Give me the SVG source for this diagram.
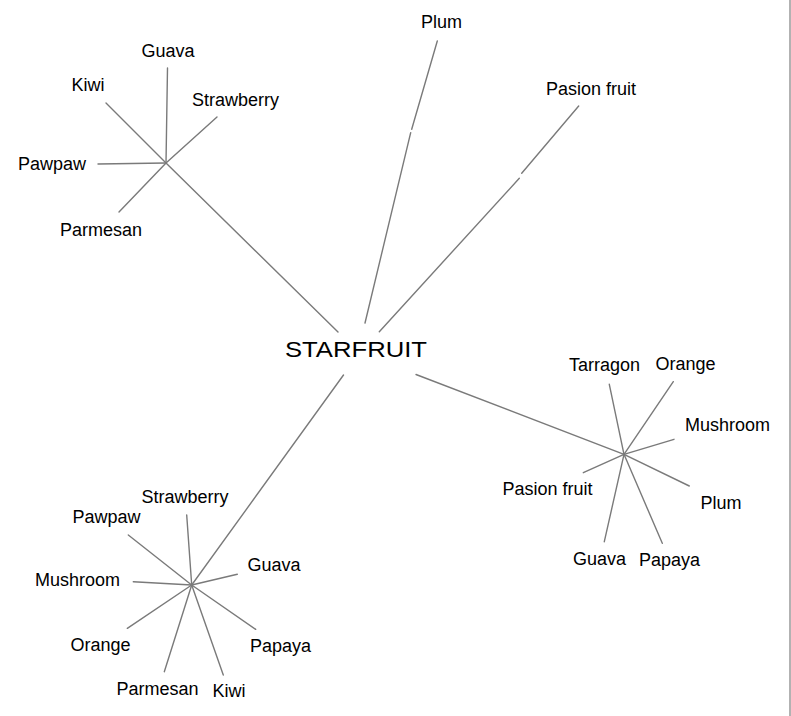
<svg xmlns="http://www.w3.org/2000/svg" width="791" height="716" viewBox="0 0 791 716">
<style>
.l{stroke:#7a7a7a;stroke-width:1.4;fill:none;stroke-linecap:round}
text{font-family:"Liberation Sans",Arial,sans-serif;font-size:18px;fill:#000}
.c{font-size:22px}
</style>
<rect width="791" height="716" fill="#fff"/>
<line x1="790" y1="0" x2="790" y2="716" stroke="#999" stroke-width="1.5"/>
<g id="connectors">
<line class="l" x1="338" y1="332" x2="166" y2="163"/>
<line class="l" x1="166" y1="163" x2="167.5" y2="68"/>
<line class="l" x1="166" y1="163" x2="106" y2="103"/>
<line class="l" x1="166" y1="163" x2="217" y2="117"/>
<line class="l" x1="166" y1="163" x2="98" y2="164"/>
<line class="l" x1="166" y1="163" x2="119" y2="212"/>
<line class="l" x1="365" y1="323" x2="410.7" y2="132.7"/>
<line class="l" x1="411.7" y1="129.3" x2="437.3" y2="41"/>
<line class="l" x1="379.3" y1="331.7" x2="519.3" y2="178.3"/>
<line class="l" x1="521.7" y1="173.3" x2="578.7" y2="106"/>
<line class="l" x1="416" y1="374.5" x2="624" y2="454.3"/>
<line class="l" x1="624" y1="454.3" x2="609.3" y2="384.3"/>
<line class="l" x1="624" y1="454.3" x2="673.3" y2="381.7"/>
<line class="l" x1="624" y1="454.3" x2="674" y2="439.3"/>
<line class="l" x1="624" y1="454.3" x2="583.3" y2="472.7"/>
<line class="l" x1="624" y1="454.3" x2="689.3" y2="486"/>
<line class="l" x1="624" y1="454.3" x2="604.3" y2="541.7"/>
<line class="l" x1="624" y1="454.3" x2="662.3" y2="543.3"/>
<line class="l" x1="343.5" y1="375" x2="191.7" y2="585"/>
<line class="l" x1="191.7" y1="585" x2="186.7" y2="515"/>
<line class="l" x1="191.7" y1="585" x2="128.3" y2="535"/>
<line class="l" x1="191.7" y1="585" x2="133.3" y2="581.7"/>
<line class="l" x1="191.7" y1="585" x2="237.3" y2="574.3"/>
<line class="l" x1="191.7" y1="585" x2="127.3" y2="628.3"/>
<line class="l" x1="191.7" y1="585" x2="255.7" y2="629.3"/>
<line class="l" x1="191.7" y1="585" x2="164.3" y2="671.7"/>
<line class="l" x1="191.7" y1="585" x2="223.3" y2="675"/>
</g>
<g id="starfruit"><text class="c" x="285" y="357" textLength="142" lengthAdjust="spacingAndGlyphs">STARFRUIT</text></g>
<g id="tl-guava"><text x="141.5" y="56.5">Guava</text></g>
<g id="tl-kiwi"><text x="71.5" y="91">Kiwi</text></g>
<g id="tl-strawberry"><text x="192" y="106">Strawberry</text></g>
<g id="tl-pawpaw"><text x="18" y="170">Pawpaw</text></g>
<g id="tl-parmesan"><text x="60" y="236">Parmesan</text></g>
<g id="plum"><text x="421" y="28">Plum</text></g>
<g id="pasion"><text x="546" y="94.5">Pasion fruit</text></g>
<g id="r-tarragon"><text x="569" y="371">Tarragon</text></g>
<g id="r-orange"><text x="655.5" y="370">Orange</text></g>
<g id="r-mushroom"><text x="685" y="431">Mushroom</text></g>
<g id="r-pasion"><text x="502.5" y="494.5">Pasion fruit</text></g>
<g id="r-plum"><text x="700.5" y="509">Plum</text></g>
<g id="r-guava"><text x="573" y="564.5">Guava</text></g>
<g id="r-papaya"><text x="639" y="566">Papaya</text></g>
<g id="bl-strawberry"><text x="141.5" y="503">Strawberry</text></g>
<g id="bl-pawpaw"><text x="72.5" y="523">Pawpaw</text></g>
<g id="bl-mushroom"><text x="35" y="586">Mushroom</text></g>
<g id="bl-guava"><text x="247.5" y="571">Guava</text></g>
<g id="bl-orange"><text x="70.5" y="650.5">Orange</text></g>
<g id="bl-papaya"><text x="250" y="652">Papaya</text></g>
<g id="bl-parmesan"><text x="116.5" y="694.5">Parmesan</text></g>
<g id="bl-kiwi"><text x="212.5" y="697">Kiwi</text></g>
</svg>
